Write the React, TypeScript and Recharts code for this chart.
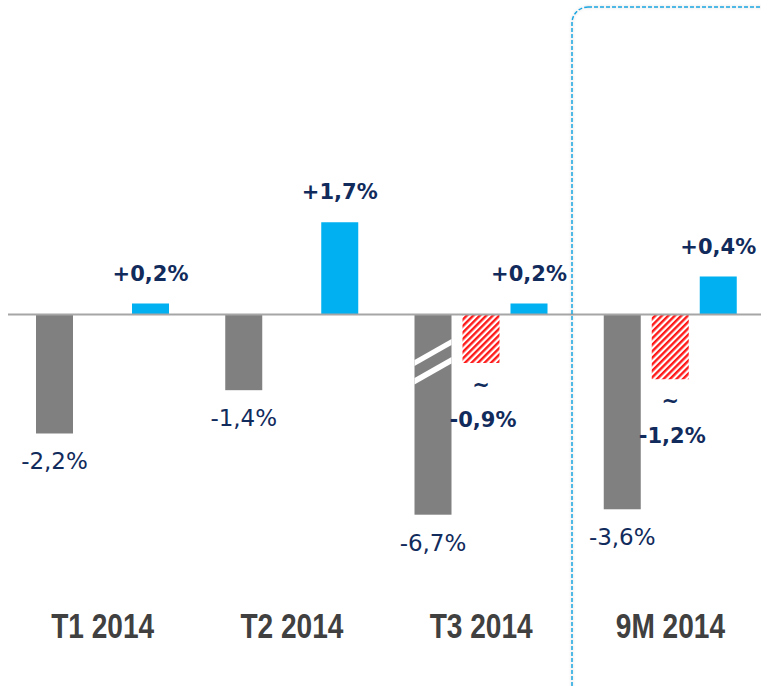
import React from "react";
import { BarChart, Bar, XAxis, YAxis, ReferenceLine, LabelList } from "recharts";

const categories = ["T1 2014", "T2 2014", "T3 2014", "9M 2014"];
// bar lengths as drawn in the picture (the T3 grey bar is drawn with an axis break)
const greyBars = [-2.2, -1.4, -3.7, -3.6];
const greyLabels = ["-2,2%", "-1,4%", "-6,7%", "-3,6%"];
const greyBroken = [false, false, true, false];
const redBars: (number | null)[] = [null, null, -0.9, -1.2];
const redLabels = ["", "", "-0,9%", "-1,2%"];
const blueBars = [0.2, 1.7, 0.2, 0.7];
const blueLabels = ["+0,2%", "+1,7%", "+0,2%", "+0,4%"];

const data = categories.map((name, i) => ({
  name,
  grey: greyBars[i],
  greyLabel: greyLabels[i],
  broken: greyBroken[i],
  red: redBars[i],
  redLabel: redLabels[i],
  blue: blueBars[i],
  blueLabel: blueLabels[i],
}));

const NAVY = "#112b5c";
const GREY = "#808080";
const BLUE = "#00b0f0";

function box(p: any) {
  const x = Number(p.x ?? p.viewBox?.x);
  const y = Number(p.y ?? p.viewBox?.y);
  const w = Number(p.width ?? p.viewBox?.width);
  const h = Number(p.height ?? p.viewBox?.height);
  return { x, w, top: Math.min(y, y + h), bottom: Math.max(y, y + h) };
}

const GreyShape = (p: any) => {
  const { x, w, top, bottom } = box(p);
  const broken = p.payload?.broken;
  return (
    <g>
      <rect x={x} y={top} width={w} height={bottom - top} fill={GREY} />
      {broken && (
        <>
          <polygon
            points={`${x},${top + 45.5} ${x + w},${top + 24.5} ${x + w},${top + 30.5} ${x},${top + 51.5}`}
            fill="#ffffff"
          />
          <polygon
            points={`${x},${top + 63.5} ${x + w},${top + 42.5} ${x + w},${top + 49} ${x},${top + 70}`}
            fill="#ffffff"
          />
        </>
      )}
    </g>
  );
};

const GreyLabel = (p: any) => {
  if (!p.value) return null;
  const { x, w, bottom } = box(p);
  return (
    <text
      x={x + w / 2}
      y={bottom + 28}
      textAnchor="middle"
      dominantBaseline="central"
      fontFamily="DejaVu Sans"
      fontSize={23}
      fill={NAVY}
    >
      {p.value}
    </text>
  );
};

const BlueLabel = (p: any) => {
  if (!p.value) return null;
  const { x, w, top } = box(p);
  return (
    <text
      x={x + w / 2}
      y={top - 30}
      textAnchor="middle"
      dominantBaseline="central"
      fontFamily="DejaVu Sans"
      fontWeight="bold"
      fontSize={21}
      fill={NAVY}
    >
      {p.value}
    </text>
  );
};

const RedLabel = (p: any) => {
  if (!p.value) return null;
  const { x, w, bottom } = box(p);
  return (
    <g>
      <text
        x={x + w / 2}
        y={bottom + 22}
        textAnchor="middle"
        dominantBaseline="central"
        fontFamily="DejaVu Sans"
        fontWeight="bold"
        fontSize={21}
        fill={NAVY}
      >
        ~
      </text>
      <text
        x={x + w / 2 + 2}
        y={bottom + 57}
        textAnchor="middle"
        dominantBaseline="central"
        fontFamily="DejaVu Sans"
        fontWeight="bold"
        fontSize={21}
        fill={NAVY}
      >
        {p.value}
      </text>
    </g>
  );
};

const CatTick = (p: any) => {
  const { x, y, payload } = p;
  return (
    <g transform={`translate(${x},${Number(y) + 72})`}>
      <text
        transform="scale(0.78,1)"
        textAnchor="middle"
        fontFamily="Liberation Sans, Arial, sans-serif"
        fontWeight="bold"
        fontSize={36}
        fill="#404040"
      >
        {payload.value}
      </text>
    </g>
  );
};

export default function App() {
  return (
    <div
      style={{
        position: "absolute",
        left: 0,
        top: 0,
        width: 761,
        height: 686,
        overflow: "hidden",
        background: "#ffffff",
      }}
    >
      <BarChart
        width={770}
        height={686}
        data={data}
        margin={{ top: 152, right: 5, bottom: 98, left: 8 }}
        barSize={37}
        barGap={11}
      >
        <defs>
          <pattern
            id="hatch"
            patternUnits="userSpaceOnUse"
            width={4.6}
            height={4.6}
            patternTransform="rotate(45)"
          >
            <rect x={0} y={0} width={4.6} height={4.6} fill="#ffffff" />
            <rect x={0} y={0} width={2.4} height={4.6} fill="#ff1a1a" />
          </pattern>
        </defs>
        <XAxis
          dataKey="name"
          axisLine={false}
          tickLine={false}
          tick={<CatTick />}
          interval={0}
        />
        <YAxis hide domain={[-4.5, 3]} />
        <Bar dataKey="grey" shape={<GreyShape />} isAnimationActive={false}>
          <LabelList dataKey="greyLabel" content={<GreyLabel />} />
        </Bar>
        <Bar dataKey="red" fill="url(#hatch)" isAnimationActive={false}>
          <LabelList dataKey="redLabel" content={<RedLabel />} />
        </Bar>
        <Bar dataKey="blue" fill={BLUE} isAnimationActive={false}>
          <LabelList dataKey="blueLabel" content={<BlueLabel />} />
        </Bar>
        <ReferenceLine y={0} stroke="#a6a6a6" strokeWidth={2} />
      </BarChart>
      <svg
        width={761}
        height={686}
        style={{ position: "absolute", left: 0, top: 0, pointerEvents: "none" }}
      >
        <defs>
          <filter id="soft" x="-10%" y="-10%" width="120%" height="120%">
            <feDropShadow dx={0} dy={0} stdDeviation={1.5} floodColor="#000" floodOpacity={0.2} />
          </filter>
        </defs>
        <rect
          x={572}
          y={7}
          width={220}
          height={720}
          rx={16}
          ry={16}
          fill="none"
          stroke="#1ea5e0"
          strokeWidth={1.5}
          strokeDasharray="4 2"
          filter="url(#soft)"
        />
      </svg>
    </div>
  );
}
